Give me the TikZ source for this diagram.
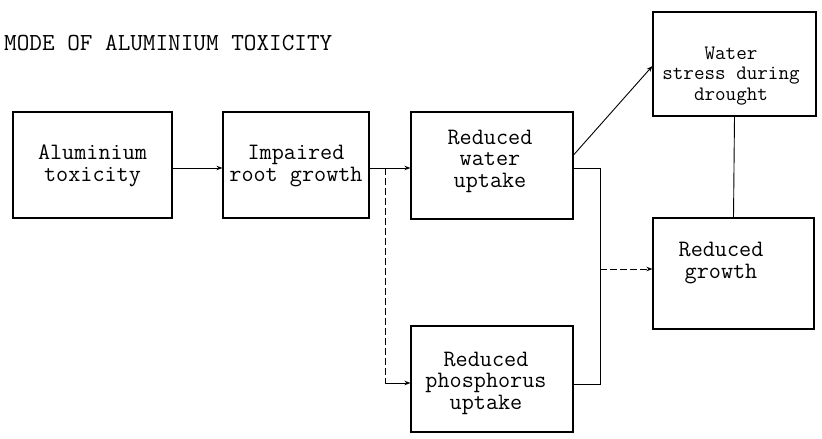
\documentclass[tikz,border=0pt]{standalone}
\usetikzlibrary{arrows.meta}
\begin{document}
\begin{tikzpicture}[x=1pt,y=-1pt,
  txt/.style={font=\ttfamily\fontsize{23.5}{21.5}\selectfont,align=center,inner sep=0pt},
  box/.style={draw,line width=1.1pt,inner sep=0pt},
  link/.style={line width=0.9pt},
  arr/.style={link,-{Stealth[length=6pt,width=4.5pt]}},
  dlink/.style={link,dash pattern=on 7pt off 3pt}]
\useasboundingbox (0,0) rectangle (822,439);

% title
\node[txt,anchor=west,font=\ttfamily\fontsize{24.5}{24}\selectfont] (title) at (4,43) {MODE OF ALUMINIUM TOXICITY};

% boxes
\node[box,minimum width=159pt,minimum height=106pt] (al)    at (92.5,165) {};
\node[box,minimum width=146pt,minimum height=106pt] (root)  at (296,165)  {};
\node[box,minimum width=162pt,minimum height=107pt] (water) at (492,165.5) {};
\node[box,minimum width=162pt,minimum height=106pt] (phos)  at (492,379)  {};
\node[box,minimum width=163pt,minimum height=104pt] (dry)   at (734.5,64) {};
\node[box,minimum width=161pt,minimum height=111pt] (grow)  at (733.5,273.5) {};

% box texts
\node[txt] (alt)    at (92.5,166) {Aluminium\\toxicity};
\node[txt] (roott)  at (296,166)  {Impaired\\root growth};
\node[txt] (watert) at (490,161)  {Reduced\\water\\uptake};
\node[txt] (phost)  at (486,383)  {Reduced\\phosphorus\\uptake};
\node[txt,font=\ttfamily\fontsize{20.5}{20.5}\selectfont] (dryt) at (731,76) {Water\\stress during\\drought};
\node[txt] (growt)  at (721,263)  {Reduced\\growth};

% junction points
\coordinate (split) at (385,168);
\coordinate (join)  at (600,269);

% connectors
\draw[arr] (al.east |- 0,168) -- (root.west |- 0,168);
\draw[arr] (root.east |- 0,168) -- (water.west |- 0,168);
\draw[dlink] (split) -- (split |- 0,383);
\draw[arr] (split |- 0,383) -- (phos.west |- 0,383);
\draw[link] (water.east |- 0,168) -- (join |- 0,168) -- (join |- 0,384) -- (phos.east |- 0,384);
\draw[arr,dlink] (join) -- (grow.west |- join);
\draw[arr] (water.east |- 0,155) -- (dry.west |- 0,66);
\draw[link] (dry.south) -- (grow.north);
\end{tikzpicture}
\end{document}
